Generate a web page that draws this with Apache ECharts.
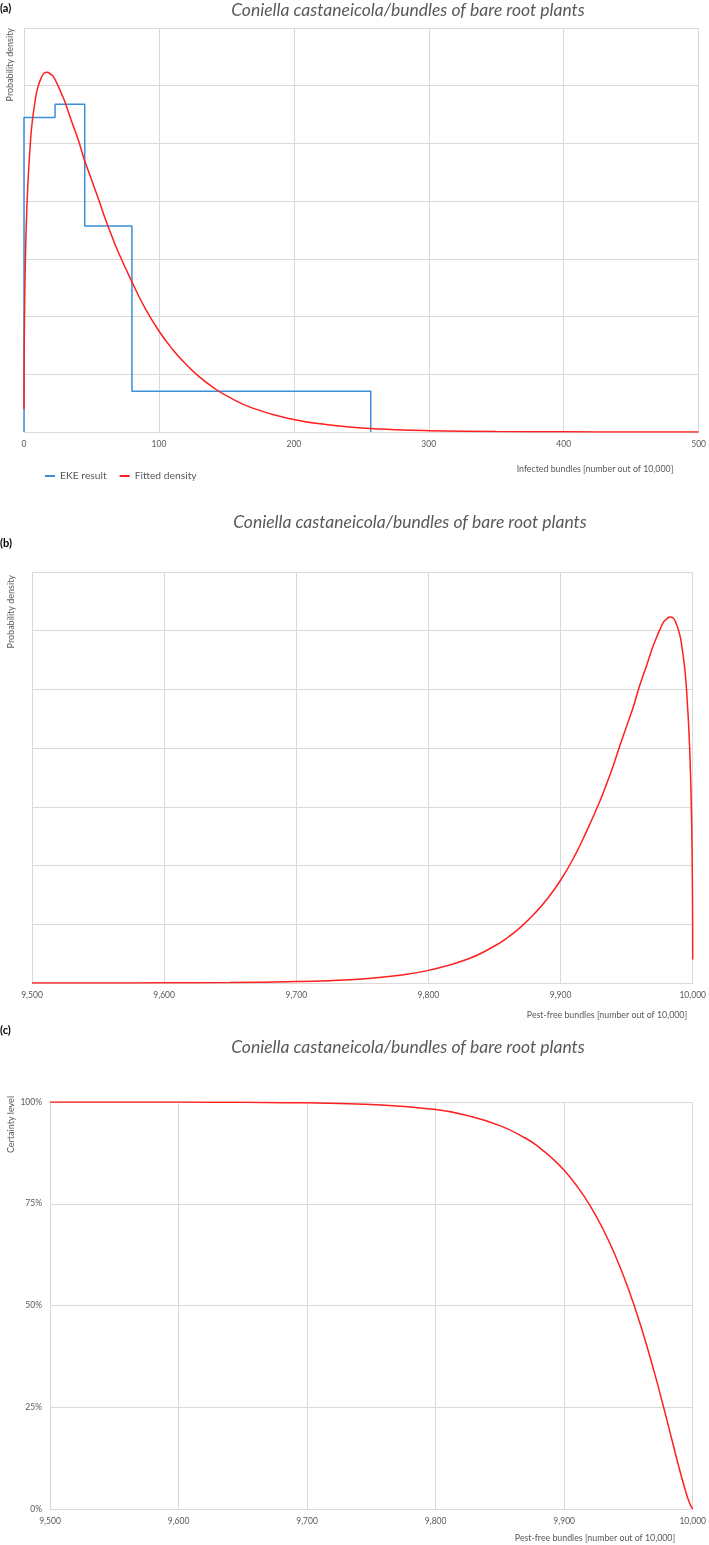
<!DOCTYPE html>
<html><head><meta charset="utf-8">
<script src="https://cdn.jsdelivr.net/npm/echarts@6/dist/echarts.min.js"></script>
<style>html,body{margin:0;padding:0;background:#fff}#chart{width:709px;height:1545px}</style>
</head><body><div id="chart"></div>
<script>
// ---------------- data ----------------
const chartTitle = 'Coniella castaneicola/bundles of bare root plants';
const panelLabels = ['(a)', '(b)', '(c)'];
const legendNames = ['EKE result', 'Fitted density'];

// EKE histogram (panel a)
const ekeBinEdges = [0, 23, 45, 80, 257];
const ekeBinHeights = [0.0109, 0.01136, 0.00714, 0.00141];

// Fitted density (panel a): infected bundles vs density
const infectedX = [0, 0.1, 0.5, 1, 2, 3, 4, 5, 6, 8, 10, 13, 15, 17, 20, 22, 25, 28, 30, 35, 40, 45, 50, 55, 60, 65, 70, 80, 90, 100, 110, 120, 130, 140, 150, 170, 200, 225, 250, 275, 300, 350, 400, 450, 500];
const fittedDensityA = [0.0008, 0.0024, 0.0045, 0.0059, 0.0076, 0.0087, 0.0095, 0.0102, 0.0107, 0.0114, 0.0119, 0.0123, 0.01244, 0.01247, 0.01239, 0.0123, 0.01202, 0.0117, 0.01148, 0.0108, 0.01015, 0.0094, 0.00875, 0.0081, 0.00742, 0.0068, 0.00622, 0.0052, 0.00427, 0.0035, 0.00287, 0.00235, 0.00191, 0.00155, 0.00126, 0.00082, 0.00043, 0.00025, 0.00014, 0.00008, 0.000047, 0.000015, 0.000005, 0.0000015, 0.0000005];

// Fitted density (panel b): pest-free bundles vs density
const pestFreeX = [9500, 9550, 9600, 9650, 9700, 9725, 9750, 9775, 9800, 9830, 9850, 9860, 9870, 9880, 9890, 9900, 9910, 9920, 9930, 9935, 9940, 9945, 9950, 9955, 9960, 9965, 9970, 9972, 9975, 9978, 9980, 9983, 9985, 9987, 9990, 9992, 9994, 9995, 9996, 9997, 9998, 9999, 9999.5, 9999.9, 10000];
const fittedDensityB = [0.0000005, 0.0000015, 0.000005, 0.000015, 0.000047, 0.00008, 0.00014, 0.00025, 0.00043, 0.00082, 0.00126, 0.00155, 0.00191, 0.00235, 0.00287, 0.0035, 0.00427, 0.0052, 0.00622, 0.0068, 0.00742, 0.0081, 0.00875, 0.0094, 0.01015, 0.0108, 0.01148, 0.0117, 0.01202, 0.0123, 0.01239, 0.01247, 0.01244, 0.0123, 0.0119, 0.0114, 0.0107, 0.0102, 0.0095, 0.0087, 0.0076, 0.0059, 0.0045, 0.0024, 0.0008];

// Certainty level (panel c)
const certaintyX = [9500, 9600, 9650, 9700, 9750, 9800, 9825, 9850, 9870, 9880, 9890, 9900, 9910, 9920, 9930, 9940, 9950, 9960, 9970, 9975, 9980, 9985, 9990, 9995, 9998, 10000];
const certaintyPct = [100, 99.98, 99.93, 99.79, 99.38, 98.13, 96.65, 94.2, 91.1, 88.96, 86.36, 83.21, 79.3, 74.61, 68.92, 62.1, 54.04, 44.59, 33.75, 27.87, 21.76, 15.54, 9.41, 3.82, 1.1, 0];

// axis names
const xNameA = 'Infected bundles [number out of 10,000]';
const xNameBC = 'Pest-free bundles [number out of 10,000]';
const yNameAB = 'Probability density';
const yNameC = 'Certainty level';

// ---------------- build ----------------
const FONT = 'Lato, "Open Sans", sans-serif';
const GRID_C = '#d9d9d9';
const TXT_C = '#595959';
const BLUE = '#3a8fd8';
const RED = '#ff1f1f';

function zip(xs, ys) { return xs.map((x, i) => [x, ys[i]]); }
function stepOutline(edges, heights) {
  const pts = [[edges[0], 0]];
  heights.forEach((h, i) => { pts.push([edges[i], h]); pts.push([edges[i + 1], h]); });
  pts.push([edges[edges.length - 1], 0]);
  return pts;
}
const fmtThousands = v => Number(v).toLocaleString('en-US');

const grids = [
  { left: 24, top: 28, width: 678, height: 404 },
  { left: 32, top: 572, width: 665, height: 411 },
  { left: 50, top: 1102, width: 647, height: 407 }
];

function xAxisCfg(gi, min, max, fmt) {
  return {
    type: 'value', gridIndex: gi, min: min, max: max, interval: 100,
    axisLine: { show: true, lineStyle: { color: GRID_C, width: 1 } },
    axisTick: { show: false },
    axisLabel: { color: TXT_C, fontSize: 8.5, fontFamily: FONT, margin: 8, formatter: fmt, showMinLabel: true, showMaxLabel: true },
    splitLine: { show: true, lineStyle: { color: GRID_C, width: 1 } }
  };
}
function yAxisCfg(gi, min, max, interval, showLabels, fmt) {
  return {
    type: 'value', gridIndex: gi, min: min, max: max, interval: interval,
    axisLine: { show: gi === 2, lineStyle: { color: GRID_C } },
    axisTick: { show: false },
    axisLabel: { show: showLabels, color: TXT_C, fontSize: 8.5, fontFamily: FONT, margin: 8, formatter: fmt },
    splitLine: { show: true, lineStyle: { color: GRID_C, width: 1 } }
  };
}

function txt(x, y, text, opts) {
  return {
    type: 'text', x: x, y: y,
    style: Object.assign({ text: text, fill: TXT_C, fontFamily: FONT, fontSize: 9, textAlign: 'center', textVerticalAlign: 'middle' }, opts || {})
  };
}
function rotTxt(x, y, text) {
  return { type: 'text', x: x, y: y, rotation: Math.PI / 2,
    style: { text: text, fill: TXT_C, fontFamily: FONT, fontSize: 9, textAlign: 'right', textVerticalAlign: 'middle' } };
}

const lineCommon = { type: 'line', showSymbol: false, symbol: 'none', smooth: true };

const option = {
  animation: false,
  backgroundColor: '#ffffff',
  grid: grids,
  xAxis: [
    xAxisCfg(0, 0, 500, v => String(v)),
    xAxisCfg(1, 9500, 10000, fmtThousands),
    xAxisCfg(2, 9500, 10000, fmtThousands)
  ],
  yAxis: [
    yAxisCfg(0, 0, 0.014, 0.002, false),
    yAxisCfg(1, 0, 0.014, 0.002, false),
    yAxisCfg(2, 0, 100, 25, true, v => v + '%')
  ],
  legend: {
    data: legendNames, left: 40, top: 466, icon: 'rect', itemWidth: 10, itemHeight: 2, itemGap: 13,
    textStyle: { color: TXT_C, fontSize: 10.3, fontFamily: FONT }
  },
  series: [
    { name: legendNames[0], type: 'line', xAxisIndex: 0, yAxisIndex: 0, data: stepOutline(ekeBinEdges, ekeBinHeights),
      showSymbol: false, symbol: 'none', lineStyle: { color: BLUE, width: 1.5 }, itemStyle: { color: BLUE }, z: 3 },
    Object.assign({ name: legendNames[1], xAxisIndex: 0, yAxisIndex: 0, data: zip(infectedX, fittedDensityA),
      lineStyle: { color: RED, width: 1.5 }, itemStyle: { color: RED }, z: 4 }, lineCommon),
    Object.assign({ name: 'density-b', xAxisIndex: 1, yAxisIndex: 1, data: zip(pestFreeX, fittedDensityB),
      lineStyle: { color: RED, width: 1.5 }, itemStyle: { color: RED }, z: 4 }, lineCommon),
    Object.assign({ name: 'certainty-c', xAxisIndex: 2, yAxisIndex: 2, data: zip(certaintyX, certaintyPct),
      lineStyle: { color: RED, width: 1.5 }, itemStyle: { color: RED }, z: 4 }, lineCommon)
  ],
  graphic: [
    txt(0, 8, panelLabels[0], { fill: '#000', fontSize: 11, fontWeight: 'bold', textAlign: 'left' }),
    txt(0, 543, panelLabels[1], { fill: '#000', fontSize: 11, fontWeight: 'bold', textAlign: 'left' }),
    txt(0, 1030, panelLabels[2], { fill: '#000', fontSize: 11, fontWeight: 'bold', textAlign: 'left' }),
    txt(408, 10, chartTitle, { fontSize: 17.5, fontStyle: 'italic' }),
    txt(410, 522, chartTitle, { fontSize: 17.5, fontStyle: 'italic' }),
    txt(408, 1047, chartTitle, { fontSize: 17.5, fontStyle: 'italic' }),
    rotTxt(10, 28, yNameAB),
    rotTxt(11, 575, yNameAB),
    rotTxt(11, 1096, yNameC),
    txt(595, 469, xNameA, { fontSize: 8.8 }),
    txt(607, 1015, xNameBC, { fontSize: 8.8 }),
    txt(595, 1538, xNameBC, { fontSize: 8.8 })
  ]
};

const chart = echarts.init(document.getElementById('chart'), null, { renderer: 'canvas' });
chart.setOption(option);
</script>
</body></html>
